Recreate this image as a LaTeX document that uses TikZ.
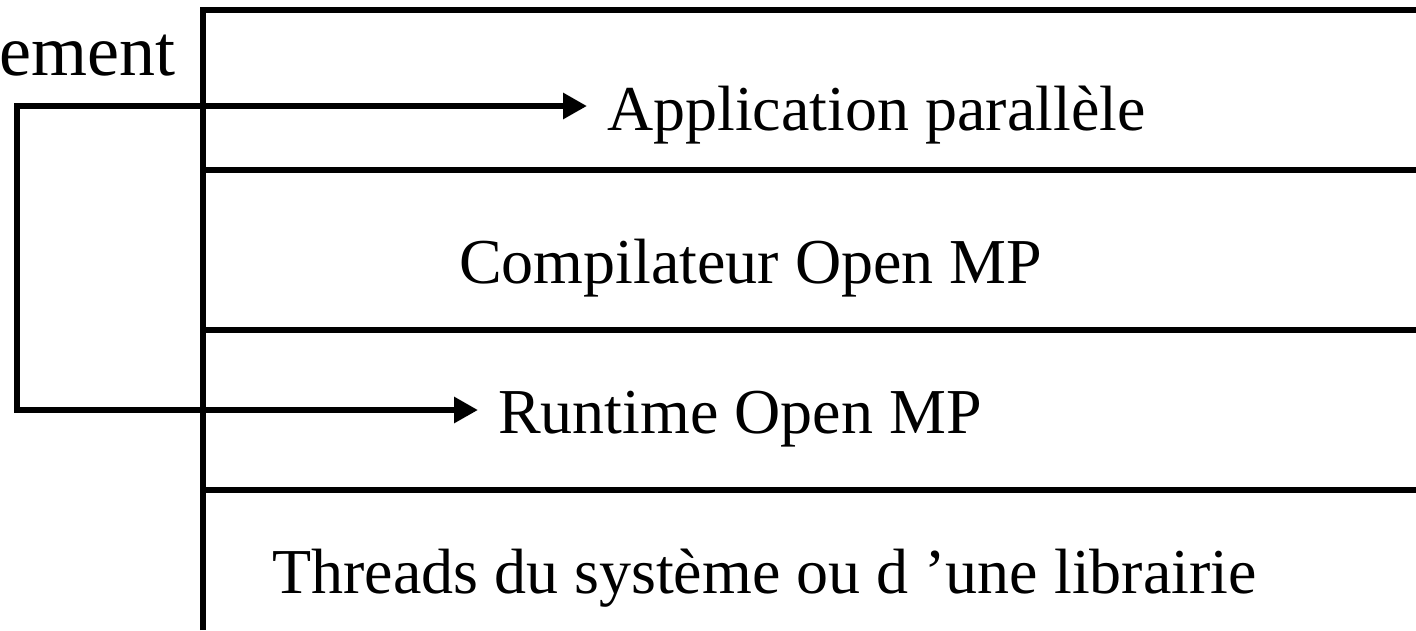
\documentclass[tikz,border=0pt]{standalone}
\usepackage{fontspec}
\setmainfont{Liberation Serif}
\usetikzlibrary{arrows.meta}
\begin{document}
\begin{tikzpicture}[x=1pt,y=-1pt,
  layer/.style={line width=6.5pt},
  lbl/.style={inner ysep=0pt,inner xsep=20pt,anchor=base west,
    font=\fontsize{64}{76}\selectfont},
  fb/.style={line width=6.5pt,line join=miter,
    {Triangle[length=24pt,width=25pt]}-{Triangle[length=24pt,width=25pt]}}]
  \useasboundingbox (0,0) rectangle (1416,630);
  % layer stack
  \draw[layer,line join=miter] (203,630) -- (203,10) -- (1416,10);
  \draw[layer] (203,170) -- (1416,170);
  \draw[layer] (203,330) -- (1416,330);
  \draw[layer] (203,490) -- (1416,490);
  % layer labels
  \node[lbl] (app) at (587,130) {Application parallèle};
  \node[lbl] (comp) at (439,283) {Compilateur Open MP};
  \node[lbl] (rt) at (478,433) {Runtime Open MP};
  \node[lbl] (thr) at (252,593) {Threads du système ou d ’une librairie};
  \node[inner sep=0pt,anchor=base east,font=\fontsize{72}{86}\selectfont]
    (dev) at (176,75) {ement};
  % link between the application and the runtime
  \coordinate (loopTop) at (17,106);
  \coordinate (loopBot) at (17,410);
  \draw[fb] ([yshift=24pt]app.base west) -- (loopTop) -- (loopBot)
    -- ([yshift=23pt]rt.base west);
\end{tikzpicture}
\end{document}
